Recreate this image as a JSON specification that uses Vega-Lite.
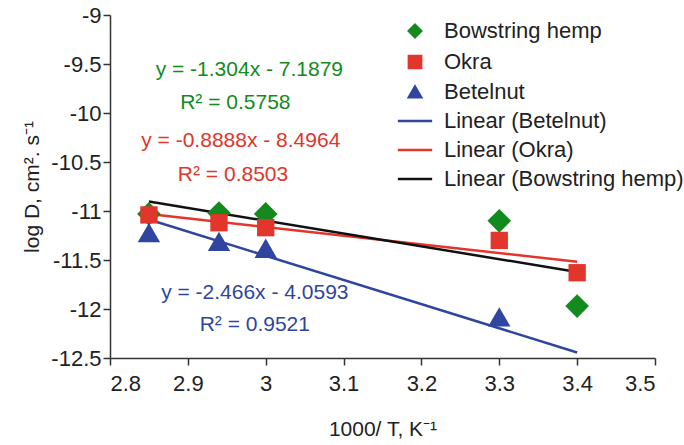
{
  "$schema": "https://vega.github.io/schema/vega-lite/v6.json",
  "width": 545,
  "height": 343,
  "autosize": {"type": "none"},
  "padding": {"left": 110, "top": 15, "right": 29, "bottom": 87},
  "background": "white",
  "config": {
    "view": {"stroke": null},
    "font": "Liberation Sans",
    "axis": {
      "grid": false,
      "domainColor": "#333",
      "domainWidth": 1.5,
      "tickColor": "#333",
      "tickWidth": 1.5,
      "tickSize": 7,
      "labelFont": "Liberation Sans",
      "labelFontSize": 22,
      "labelColor": "#222",
      "titleFont": "Liberation Sans",
      "titleFontSize": 21,
      "titleFontWeight": "normal",
      "titleColor": "#222"
    }
  },
  "datasets": {
    "points": [
      {"series": "Bowstring hemp", "x": 2.85, "y": -11.03},
      {"series": "Bowstring hemp", "x": 2.94, "y": -11.02},
      {"series": "Bowstring hemp", "x": 3.0, "y": -11.03},
      {"series": "Bowstring hemp", "x": 3.3, "y": -11.1},
      {"series": "Bowstring hemp", "x": 3.4, "y": -11.97},
      {"series": "Okra", "x": 2.85, "y": -11.04},
      {"series": "Okra", "x": 2.94, "y": -11.12},
      {"series": "Okra", "x": 3.0, "y": -11.17},
      {"series": "Okra", "x": 3.3, "y": -11.3},
      {"series": "Okra", "x": 3.4, "y": -11.63},
      {"series": "Betelnut", "x": 2.85, "y": -11.22},
      {"series": "Betelnut", "x": 2.94, "y": -11.31},
      {"series": "Betelnut", "x": 3.0, "y": -11.38},
      {"series": "Betelnut", "x": 3.3, "y": -12.08},
      {"series": "Betelnut", "x": 3.4, "y": -12.64}
    ],
    "lines": [
      {"series": "Linear (Betelnut)", "x": 2.85, "y": -11.087},
      {"series": "Linear (Betelnut)", "x": 3.4, "y": -12.444},
      {"series": "Linear (Okra)", "x": 2.85, "y": -11.03},
      {"series": "Linear (Okra)", "x": 3.4, "y": -11.518},
      {"series": "Linear (Bowstring hemp)", "x": 2.85, "y": -10.904},
      {"series": "Linear (Bowstring hemp)", "x": 3.4, "y": -11.622}
    ],
    "notes": [
      {"series": "Bowstring hemp", "x": 2.979, "y": -9.56, "text": "y = -1.304x - 7.1879"},
      {"series": "Bowstring hemp", "x": 2.961, "y": -9.895, "text": "R² = 0.5758"},
      {"series": "Okra", "x": 2.968, "y": -10.285, "text": "y = -0.8888x - 8.4964"},
      {"series": "Okra", "x": 2.958, "y": -10.63, "text": "R² = 0.8503"},
      {"series": "Betelnut", "x": 2.986, "y": -11.835, "text": "y = -2.466x - 4.0593"},
      {"series": "Betelnut", "x": 2.986, "y": -12.16, "text": "R² = 0.9521"}
    ]
  },
  "layer": [
    {
      "data": {"name": "lines"},
      "mark": {"type": "line", "strokeWidth": 2.5},
      "encoding": {
        "x": {"field": "x", "type": "quantitative"},
        "y": {"field": "y", "type": "quantitative"},
        "color": {"field": "series", "type": "nominal"},
        "detail": {"field": "series"}
      }
    },
    {
      "data": {"name": "points"},
      "mark": {"type": "point", "filled": true, "opacity": 1, "clip": true},
      "encoding": {
        "x": {
          "field": "x", "type": "quantitative",
          "scale": {"domain": [2.8, 3.5], "nice": false, "zero": false},
          "axis": {
            "title": "1000/ T, K⁻¹",
            "values": [2.8, 2.9, 3, 3.1, 3.2, 3.3, 3.4, 3.5],
            "labelExpr": "'' + datum.value",
            "labelPadding": 8,
            "titlePadding": 24
          }
        },
        "y": {
          "field": "y", "type": "quantitative",
          "scale": {"domain": [-12.5, -9], "nice": false, "zero": false},
          "axis": {
            "title": "log D, cm². s⁻¹",
            "values": [-12.5, -12, -11.5, -11, -10.5, -10, -9.5, -9],
            "labelExpr": "'' + datum.value",
            "labelPadding": 2,
            "titlePadding": 8
          }
        },
        "color": {
          "field": "series", "type": "nominal",
          "scale": {
            "domain": ["Bowstring hemp", "Okra", "Betelnut", "Linear (Betelnut)", "Linear (Okra)", "Linear (Bowstring hemp)"],
            "range": ["#128a1e", "#e2352b", "#2f45a0", "#2f45a0", "#e2352b", "#111111"]
          },
          "legend": {
            "title": null,
            "orient": "none",
            "legendX": 294,
            "legendY": 5,
            "padding": 0,
            "symbolSize": 150,
            "symbolStrokeWidth": 2.5,
            "labelFont": "Liberation Sans",
            "labelFontSize": 22,
            "labelColor": "#222",
            "labelLimit": 400,
            "rowPadding": 7,
            "labelOffset": 18,
            "symbolOpacity": 1,
            "encode": {
              "symbols": {
                "update": {
                  "fill": {"scale": "color", "field": "value"},
                  "stroke": {"scale": "color", "field": "value"},
                  "opacity": {"value": 1}
                }
              }
            }
          }
        },
        "shape": {
          "field": "series", "type": "nominal",
          "scale": {
            "domain": ["Bowstring hemp", "Okra", "Betelnut", "Linear (Betelnut)", "Linear (Okra)", "Linear (Bowstring hemp)"],
            "range": ["diamond", "square", "triangle-up", "M-2.8,0H2.8", "M-2.8,0H2.8", "M-2.8,0H2.8"]
          }
        },
        "size": {
          "field": "series", "type": "nominal",
          "scale": {"type": "ordinal", "domain": ["Bowstring hemp", "Okra", "Betelnut"], "range": [560, 300, 500]},
          "legend": null
        }
      }
    },
    {
      "data": {"name": "notes"},
      "mark": {"type": "text", "font": "Liberation Sans", "fontSize": 21, "align": "center", "baseline": "middle"},
      "encoding": {
        "x": {"field": "x", "type": "quantitative"},
        "y": {"field": "y", "type": "quantitative"},
        "text": {"field": "text"},
        "color": {"field": "series", "type": "nominal", "legend": null}
      }
    }
  ]
}
